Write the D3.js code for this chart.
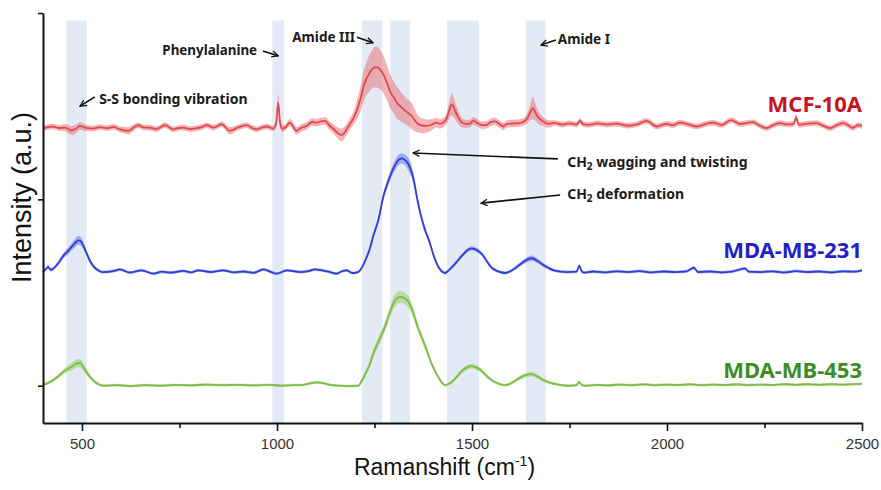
<!DOCTYPE html>
<html>
<head>
<meta charset="utf-8">
<script src="https://cdn.jsdelivr.net/npm/d3@7"></script>
<style>
  body { margin: 0; background: #fff; }
  svg { display: block; }
</style>
</head>
<body>
<div id="my_dataviz"></div>
<script>
// raman spectra: [wavenumber (cm-1), mean intensity, std dev], relative to each trace's own baseline
var mcf10a = [
  [400,0,1.5],[413,0.8,1.5],[426,1.1,1.5],[440,0.3,1.5],[456,0.5,2],[473,-1.1,2.5],[485,0,2.2],[495,1.4,2],
  [510,0.4,1.8],[529,0,1.5],[546,0.8,1.5],[563,0.2,1.5],[580,0.9,1.5],[597,-0.4,1.5],[619,-1.2,2],[632,0.5,1.8],
  [644,1.8,1.5],[658,0.6,1.5],[674,0.5,1.5],[690,-0.3,1.5],[713,1.8,1.5],[734,-0.4,1.5],[748,0.3,1.5],[760,0.5,1.5],
  [778,-0.3,1.5],[794,0.2,1.5],[808,0.9,1.5],[820,1.8,1.5],[837,0.5,1.5],[858,2.3,1.5],[879,-1.2,2],[900,0.6,1.5],
  [922,1.8,1.5],[935,0.4,1.5],[948,-0.4,1.5],[962,0.6,1.5],[974,1.1,1.5],[990,0,1.5],[998,3,2.5],[1003,14,4.5],
  [1008,3,2.5],[1014,0,2],[1021,0.5,1.5],[1033,3.2,2],[1050,-1.2,2],[1063,0.5,2],[1076,1.4,2],[1090,3.5,2],
  [1102,3.2,2],[1113,3.8,2],[1123,4.1,2],[1135,1.5,2.3],[1144,0,2.5],[1156,-2.5,3],[1166,-3.5,3.5],[1177,-1,3],
  [1187,2.5,3],[1196,5.5,3.5],[1204,9.5,5],[1213,15,6.5],[1221,22,8],[1230,27,9],[1238,30,10],[1247,32.5,10.5],
  [1256,33,11],[1265,31.5,10.5],[1273,29,10],[1282,24.5,9.5],[1290,20,9],[1300,16.5,8.5],[1307,14,8.5],[1316,12,8],
  [1324,10.4,7.5],[1335,8.5,7],[1345,6.8,7],[1353,4.5,6],[1362,2.4,4.5],[1373,1.5,4],[1384,1.4,3.5],[1396,2,3],
  [1409,3.2,2.5],[1418,2.5,2.5],[1426,3.2,2.5],[1435,5.5,3],[1442,10,4.5],[1448,13,6],[1455,10.5,5],[1461,7.5,4],
  [1468,4.8,3],[1474,3.2,2.5],[1485,2.5,2.2],[1495,2.7,2],[1503,4.2,2],[1512,3.2,2],[1525,1.8,2],[1538,2,2],
  [1548,3.4,2],[1559,3.8,2],[1570,2.5,2],[1580,1.1,2],[1590,2.5,2],[1602,2.7,2],[1618,2.8,2],[1632,3.6,2],
  [1642,5.5,2.8],[1649,8.5,4],[1656,11,6],[1663,8.5,4.5],[1670,6,3.5],[1680,4.2,2.5],[1696,2.5,2],[1712,3,1.5],
  [1733,2.1,1.5],[1750,2.8,1.5],[1768,2.1,1.5],[1777,4.1,1.5],[1786,2.2,1.5],[1800,2,1.5],[1822,2.8,1.5],[1845,2.1,1.5],
  [1870,2.6,1.5],[1900,1.5,1.5],[1925,2.4,1.5],[1948,4.1,1.5],[1973,1.1,1.5],[2000,2.5,1.5],[2015,1.8,1.5],[2033,3.2,1.5],
  [2055,2.2,1.5],[2076,1.1,1.5],[2100,2.5,1.5],[2118,3.2,1.5],[2140,1.9,1.5],[2165,4.5,1.5],[2187,2.4,1.5],[2205,3,1.5],
  [2221,3.4,1.5],[2238,1.5,1.5],[2255,0.2,1.5],[2272,1.8,1.5],[2289,2.9,1.5],[2310,2.2,1.5],[2325,2.5,1.5],[2331,6,2],
  [2338,2,1.5],[2360,2.6,1.5],[2383,2.9,1.5],[2400,1.6,1.5],[2418,0.2,1.5],[2435,1.8,1.5],[2452,2.9,1.5],[2465,1.7,1.5],
  [2477,0.4,1.5],[2490,1.8,1.5],[2500,1.4,1.5]
];

var mdamb231 = [
  [400,0,0.8],[407,1.5,0.8],[413,2.7,0.9],[420,1.2,0.9],[426,1.8,1],[440,5,1.2],[452,8.7,1.5],[463,11,1.8],
  [473,13.4,2],[482,15.5,2.2],[490,17,2.3],[497,16.5,2.3],[503,14.3,2],[511,10.5,1.6],[520,6.2,1.3],[529,3.2,1],
  [538,1.4,0.9],[547,0.3,0.8],[555,0,0.8],[580,0.5,0.8],[597,1.4,0.8],[623,-0.3,0.8],[653,0.9,0.8],[683,-0.9,0.8],
  [705,0.2,0.8],[726,-0.3,0.8],[760,0.6,0.8],[780,-0.2,0.8],[798,0.9,0.8],[830,0,0.8],[862,0.9,0.8],[890,-0.2,0.8],
  [914,0.3,0.8],[940,-0.4,0.8],[965,1.4,0.8],[985,0,0.8],[999,-0.9,0.8],[1025,0.9,0.8],[1060,0,0.8],[1080,0.5,0.8],
  [1097,1.4,0.8],[1130,0.3,0.8],[1153,-0.9,0.8],[1165,0.3,0.8],[1179,0.9,0.8],[1193,-0.5,0.8],[1208,0,0.8],[1218,2.5,1],
  [1228,7,1.2],[1238,12.5,1.4],[1247,19.5,1.6],[1260,28,1.8],[1273,40.8,2],[1284,48,2.2],[1294,53.5,2.4],[1303,57.5,2.6],
  [1311,60,2.8],[1320,61,2.8],[1330,59.8,3],[1341,56.2,3.5],[1350,50,3],[1358,41,2.5],[1367,32,2],[1379,23,1.6],
  [1392,15.6,1.3],[1403,8,1.1],[1414,2.7,0.9],[1423,0.3,0.8],[1431,-0.5,0.8],[1440,0.9,0.8],[1448,2.5,0.9],[1461,5.5,1],
  [1474,8.7,1.1],[1487,11.5,1.2],[1499,12.7,1.2],[1512,11.8,1.2],[1525,9.7,1.1],[1536,6.5,1],[1546,3.4,0.9],[1556,1.5,0.8],
  [1565,0.5,0.8],[1585,-0.5,0.8],[1603,1,0.8],[1619,3.4,1],[1636,6,1.3],[1653,7.4,1.5],[1668,6,1.3],[1683,3.8,1.1],
  [1698,2,0.9],[1713,0.7,0.8],[1743,0,0.8],[1768,0.2,0.8],[1775,3.4,0.8],[1781,0.5,0.8],[1786,-0.3,0.8],[1810,0.3,0.8],
  [1840,-0.2,0.8],[1870,0.4,0.8],[1900,0,0.8],[1930,0.5,0.8],[1960,-0.2,0.8],[1990,0.3,0.8],[2020,0,0.8],[2050,0.4,0.8],
  [2069,2.3,0.8],[2080,0,0.8],[2110,0.3,0.8],[2140,-0.2,0.8],[2170,0.4,0.8],[2200,1.9,0.8],[2210,0.2,0.8],[2240,0,0.8],
  [2270,0.4,0.8],[2300,-0.2,0.8],[2330,0.5,0.8],[2360,0,0.8],[2390,0.3,0.8],[2420,-0.2,0.8],[2450,0.4,0.8],[2480,0.2,0.8],
  [2500,0.9,0.8]
];

var mdamb453 = [
  [400,0.5,0.7],[413,1.5,0.8],[426,3,0.9],[440,5.2,1.1],[452,7.5,1.4],[463,9,1.7],[473,10.2,2],[482,11.5,2.2],
  [490,12.2,2.3],[497,11.8,2.3],[503,10.2,2.1],[511,7.5,1.7],[520,4.8,1.3],[531,2.5,1],[543,0.8,0.8],[555,0,0.7],
  [590,0.3,0.7],[625,-0.2,0.7],[660,0.3,0.7],[700,0,0.7],[740,0.4,0.7],[780,0.2,0.7],[820,0.6,0.7],[860,0.3,0.7],
  [900,0.5,0.7],[940,0.2,0.7],[980,0.5,0.7],[1010,0,0.7],[1040,0.3,0.7],[1068,0.5,0.7],[1085,1.3,0.7],[1102,1.8,0.7],
  [1120,1.3,0.7],[1136,0.5,0.7],[1160,0,0.7],[1185,-0.2,0.7],[1208,0,0.7],[1218,2.8,1],[1228,7,1.4],[1238,11.5,1.8],
  [1247,17.2,2.1],[1262,24.5,2.4],[1277,31.7,2.6],[1288,38.5,2.9],[1298,44,3.1],[1306,46.5,3.2],[1315,47.7,3.2],[1326,47,3.2],
  [1337,45,3.1],[1348,40,2.8],[1358,33.3,2.5],[1371,26,2.1],[1384,19,1.8],[1396,12,1.4],[1409,6.4,1.1],[1420,2.5,0.9],
  [1431,0.3,0.7],[1440,1,0.7],[1448,2,0.8],[1461,4.8,1],[1474,7.9,1.2],[1487,9.8,1.3],[1499,10.5,1.3],[1512,9.7,1.3],
  [1525,7.9,1.2],[1538,5.2,1],[1550,3,0.9],[1567,1.2,0.8],[1585,0.3,0.7],[1602,1.5,0.8],[1619,3.8,1],[1636,5.5,1.2],
  [1653,6.2,1.3],[1668,5,1.2],[1683,3,1],[1700,1.6,0.8],[1717,0.8,0.7],[1743,0,0.7],[1768,0.3,0.7],[1775,2,0.8],
  [1782,0.3,0.7],[1790,0,0.7],[1820,0.4,0.7],[1850,0.2,0.7],[1880,0.6,0.7],[1910,0.3,0.7],[1940,0.7,0.7],[1970,0.3,0.7],
  [2000,0.6,0.7],[2030,0.4,0.7],[2060,0.7,0.7],[2090,0.3,0.7],[2120,0.6,0.7],[2150,0.4,0.7],[2180,0.7,0.7],[2210,0.3,0.7],
  [2240,0.6,0.7],[2270,0.4,0.7],[2300,0.8,0.7],[2330,0.5,0.7],[2360,0.8,0.7],[2390,0.5,0.7],[2420,0.8,0.7],[2450,0.6,0.7],
  [2480,0.9,0.7],[2500,1,0.7]
];

var seriesNames = ["MCF-10A", "MDA-MB-231", "MDA-MB-453"];
var seriesOffsets = [138, 61, 0];

// highlighted raman bands (cm-1)
var bandRanges = [[460, 512], [988, 1018], [1218, 1270], [1290, 1341], [1436, 1518], [1638, 1689]];

var xTicks = [500, 1000, 1500, 2000, 2500];
var xMinorTicks = [750, 1250, 1750, 2250];
var yTicks = [0, 100, 200];

// set the dimensions and margins of the graph
var margin = {top: 13, right: 19, bottom: 67, left: 43},
  width = 881 - margin.left - margin.right,
  height = 490 - margin.top - margin.bottom;

var svg = d3.select("#my_dataviz")
  .append("svg")
  .attr("width", width + margin.left + margin.right)
  .attr("height", height + margin.top + margin.bottom)
  .append("g")
  .attr("transform", "translate(" + margin.left + "," + margin.top + ")");

var x = d3.scaleLinear().domain([400, 2500]).range([0, width]);
var y = d3.scaleLinear().domain([-20, 200]).range([height, 0]);

// shaded bands
svg.selectAll(".band")
  .data(bandRanges)
  .join("rect")
  .attr("class", "band")
  .attr("x", d => x(d[0]))
  .attr("width", d => x(d[1]) - x(d[0]))
  .attr("y", y(196))
  .attr("height", y(-20) - y(196))
  .attr("fill", "#e3eaf5");

// traces with std dev envelope
var traces = [
  {name: seriesNames[0], values: mcf10a, offset: seriesOffsets[0], line: "#e4484b", fill: "#ea6a70", op: 0.5, label: "#c8141e"},
  {name: seriesNames[1], values: mdamb231, offset: seriesOffsets[1], line: "#2c3edc", fill: "#5a6ce8", op: 0.5, label: "#1f22c9"},
  {name: seriesNames[2], values: mdamb453, offset: seriesOffsets[2], line: "#7cbd45", fill: "#98d064", op: 0.55, label: "#3b8c23"}
];

traces.forEach(function(t) {
  var area = d3.area()
    .curve(d3.curveMonotoneX)
    .x(d => x(d[0]))
    .y0(d => y(t.offset + d[1] - d[2]))
    .y1(d => y(t.offset + d[1] + d[2]));
  var line = d3.line()
    .curve(d3.curveMonotoneX)
    .x(d => x(d[0]))
    .y(d => y(t.offset + d[1]));

  svg.append("path")
    .datum(t.values)
    .attr("fill", t.fill)
    .attr("fill-opacity", t.op)
    .attr("d", area);
  svg.append("path")
    .datum(t.values)
    .attr("fill", "none")
    .attr("stroke", t.line)
    .attr("stroke-width", 1.8)
    .attr("d", line);
});

// series labels at the right
var labelY = [147, 68.5, 4.1];
svg.selectAll(".slabel")
  .data(traces)
  .join("text")
  .attr("class", "slabel")
  .attr("x", x(2500))
  .attr("y", (d, i) => y(labelY[i]))
  .attr("text-anchor", "end")
  .style("font-family", "'Noto Sans', sans-serif")
  .style("font-weight", "bold")
  .style("font-size", "22px")
  .attr("fill", d => d.label)
  .text(d => d.name);

// axes
var xAxis = svg.append("g")
  .attr("transform", "translate(0," + height + ")")
  .call(d3.axisBottom(x).tickValues(xTicks).tickFormat(d3.format("d")).tickSize(8).tickPadding(7).tickSizeOuter(0));
svg.append("g")
  .attr("transform", "translate(0," + height + ")")
  .call(d3.axisBottom(x).tickValues(xMinorTicks).tickSize(5).tickFormat("").tickSizeOuter(0))
  .select(".domain").remove();
var yAxis = svg.append("g")
  .call(d3.axisLeft(y).tickValues(yTicks).tickSize(5).tickFormat("").tickSizeOuter(0));

svg.selectAll(".domain").attr("stroke", "#111").attr("stroke-width", 2);
svg.selectAll(".tick line").attr("stroke", "#111").attr("stroke-width", 1.6);
xAxis.selectAll("text")
  .style("font-family", "'Liberation Sans', Arial, sans-serif")
  .style("font-size", "15px")
  .attr("fill", "#333");

// axis titles
var xTitle = svg.append("text")
  .attr("x", width / 2 - 8)
  .attr("y", height + 52)
  .attr("text-anchor", "middle")
  .style("font-family", "'Liberation Sans', Arial, sans-serif")
  .style("font-size", "23px")
  .attr("fill", "#111");
xTitle.append("tspan").text("Ramanshift (cm");
xTitle.append("tspan").attr("dy", -9).style("font-size", "14px").text("-1");
xTitle.append("tspan").attr("dy", 9).text(")");

svg.append("text")
  .attr("transform", "translate(" + (-12) + "," + (y(101)) + ") rotate(-90)")
  .attr("text-anchor", "middle")
  .style("font-family", "'Liberation Sans', Arial, sans-serif")
  .style("font-size", "27px")
  .attr("fill", "#111")
  .text("Intensity (a.u.)");

// annotations with arrows, positioned in data coordinates
svg.append("defs").append("marker")
  .attr("id", "arrow")
  .attr("viewBox", "0 0 10 10")
  .attr("refX", 9)
  .attr("refY", 5)
  .attr("markerWidth", 8)
  .attr("markerHeight", 8)
  .attr("markerUnits", "userSpaceOnUse")
  .attr("orient", "auto")
  .append("path")
  .attr("d", "M1,1 L9,5 L1,9")
  .attr("fill", "none")
  .attr("stroke", "#111")
  .attr("stroke-width", 1.6);

var annotations = [
  {text: "S-S bonding vibration", sub: null, tx: 544, ty: 151, anchor: "start", size: 14, from: [533, 155], to: [495, 150]},
  {text: "Phenylalanine", sub: null, tx: 949, ty: 177.4, anchor: "end", size: 13.4, from: [964, 179.6], to: [1003, 177]},
  {text: "Amide III", sub: null, tx: 1200, ty: 184.4, anchor: "end", size: 13.6, from: [1205, 187], to: [1246, 184]},
  {text: "Amide I", sub: null, tx: 1720, ty: 183.3, anchor: "start", size: 13.6, from: [1715, 185.5], to: [1677, 182.8]},
  {text: " wagging and twisting", sub: "CH", tx: 1744, ty: 117.4, anchor: "start", size: 14, from: [1720, 121.7], to: [1349, 124.9]},
  {text: " deformation", sub: "CH", tx: 1744, ty: 100.2, anchor: "start", size: 14, from: [1726, 102.3], to: [1523, 98]}
];

annotations.forEach(function(a) {
  svg.append("line")
    .attr("x1", x(a.from[0])).attr("y1", y(a.from[1]))
    .attr("x2", x(a.to[0])).attr("y2", y(a.to[1]))
    .attr("stroke", "#111")
    .attr("stroke-width", 1.6)
    .attr("marker-end", "url(#arrow)");
  var t = svg.append("text")
    .attr("x", x(a.tx))
    .attr("y", y(a.ty))
    .attr("text-anchor", a.anchor)
    .style("font-family", "'Noto Sans', sans-serif")
    .style("font-weight", "bold")
    .style("font-size", a.size + "px")
    .attr("fill", "#1a1a1a");
  if (a.sub) {
    t.append("tspan").text(a.sub);
    t.append("tspan").attr("dy", 3).style("font-size", "10px").text("2");
    t.append("tspan").attr("dy", -3).text(a.text);
  } else {
    t.text(a.text);
  }
});
</script>
</body>
</html>
